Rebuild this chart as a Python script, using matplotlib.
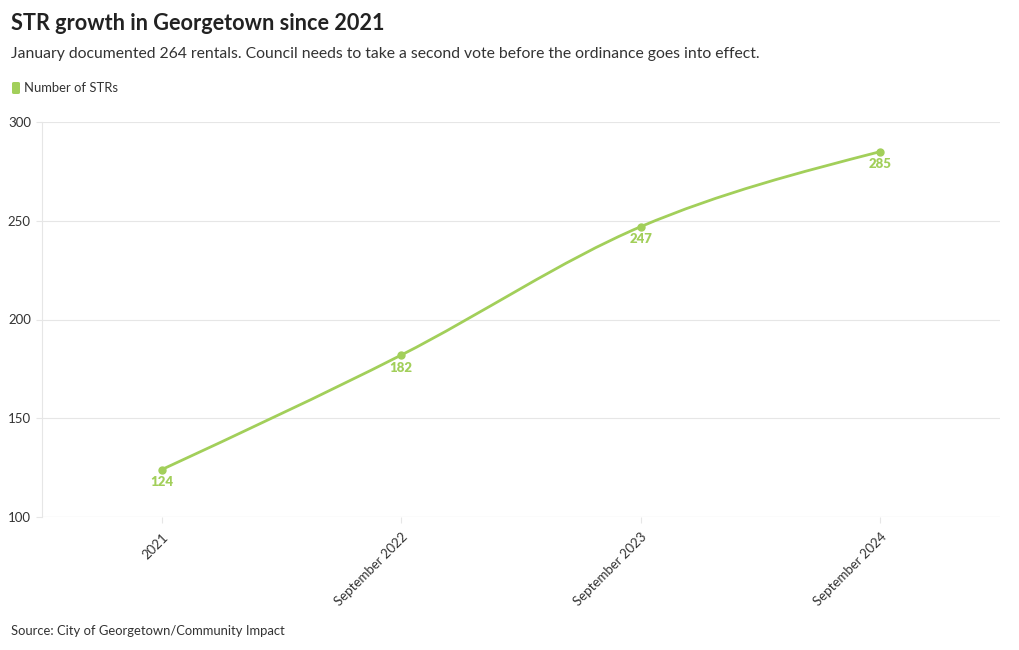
import matplotlib
matplotlib.use("Agg")
import matplotlib.pyplot as plt
from matplotlib.path import Path
from matplotlib.patches import PathPatch, FancyBboxPatch
import numpy as np

categories = ["2021", "September 2022", "September 2023", "September 2024"]
values = [124, 182, 247, 285]
yticks = [100, 150, 200, 250, 300]

title = "STR growth in Georgetown since 2021"
subtitle = "January documented 264 rentals. Council needs to take a second vote before the ordinance goes into effect."
legend_label = "Number of STRs"
source = "Source: City of Georgetown/Community Impact"

GREEN = "#a2cf5a"
TEXT = "#333333"
GRID = "#e6e6e6"

plt.rcParams['font.family'] = ['Lato', 'DejaVu Sans']

fig = plt.figure(figsize=(10.2, 6.5), dpi=100)
ax = fig.add_axes([42/1020, 1-517/650, 958/1020, 395/650])

x = np.arange(len(values), dtype=float)
y = np.array(values, dtype=float)

# d3 curveMonotoneX tangents
n = len(x)
s = np.diff(y) / np.diff(x)
h = np.diff(x)
t = np.zeros(n)
for i in range(1, n - 1):
    h0, h1 = h[i-1], h[i]
    s0, s1 = s[i-1], s[i]
    p = (s0 * h1 + s1 * h0) / (h0 + h1)
    t[i] = (np.sign(s0) + np.sign(s1)) * min(abs(s0), abs(s1), 0.5 * abs(p))
t[0] = (3 * s[0] - t[1]) / 2
t[-1] = (3 * s[-1] - t[-2]) / 2

verts = [(x[0], y[0])]
codes = [Path.MOVETO]
for i in range(n - 1):
    dx = (x[i+1] - x[i]) / 3
    verts += [(x[i] + dx, y[i] + dx * t[i]), (x[i+1] - dx, y[i+1] - dx * t[i+1]), (x[i+1], y[i+1])]
    codes += [Path.CURVE4] * 3
ax.add_patch(PathPatch(Path(verts, codes), facecolor="none", edgecolor=GREEN, lw=2.0, zorder=3, capstyle="round"))
ax.plot(x, y, "o", color=GREEN, ms=5, zorder=4)

for xi, yi in zip(x, values):
    ax.annotate(str(yi), (xi, yi), xytext=(0, -9), textcoords="offset points",
                ha="center", va="center", color=GREEN, fontsize=9.5, fontweight="heavy")

ax.set_xlim(-0.5, len(values) - 0.5)
ax.set_ylim(100, 300)
ax.set_yticks(yticks)
ax.set_yticklabels([str(v) for v in yticks])
ax.set_xticks(x)
ax.set_xticklabels(categories, rotation=45, ha="right", va="top", rotation_mode="anchor")

for sp in ["top", "right", "bottom"]:
    ax.spines[sp].set_visible(False)
ax.spines["left"].set_color(GRID)
ax.spines["left"].set_linewidth(0.8)
ax.grid(axis="y", color=GRID, lw=0.8)
ax.set_axisbelow(True)
ax.tick_params(axis="y", length=4, color=GRID, labelsize=9.5, labelcolor=TEXT, pad=4)
ax.tick_params(axis="x", length=4, color=GRID, labelsize=9.5, labelcolor=TEXT, pad=6)
ax.axhline(100, color=GRID, lw=0.8, zorder=0)

fig.text(11/1020, 1-24/650, title, fontsize=15.6, fontweight="bold", color="#222222", va="center", ha="left")
fig.text(11/1020, 1-54/650, subtitle, fontsize=11.35, color=TEXT, va="center", ha="left")
fig.patches.append(FancyBboxPatch((12/1020, 1-94/650), 8/1020, 12/650, boxstyle="round,pad=0,rounding_size=0.002",
                                  transform=fig.transFigure, facecolor=GREEN, edgecolor="none"))
fig.text(24/1020, 1-88/650, legend_label, fontsize=9.4, color=TEXT, va="center", ha="left")
fig.text(11/1020, 1-631/650, source, fontsize=9.4, color=TEXT, va="center", ha="left")

fig.savefig("out.png", dpi=100, facecolor="white")
